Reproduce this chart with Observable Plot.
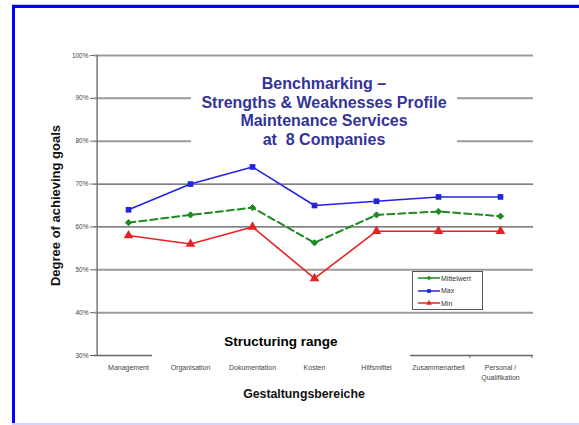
<!DOCTYPE html>
<html>
<head>
<meta charset="utf-8">
<script src="https://cdn.jsdelivr.net/npm/d3@7"></script>
<script src="https://cdn.jsdelivr.net/npm/@observablehq/plot@0.6"></script>
<style>
  html, body { margin: 0; padding: 0; background: #fff; }
  #wrap { position: relative; width: 579px; height: 425px; overflow: hidden; font-family: "Liberation Sans", Arial, sans-serif; }
  #frame { position: absolute; left: 12px; top: 5px; width: 600px; height: 430px; border-left: 3px solid #0000ff; border-top: 3px solid #0000ff; box-sizing: border-box; }
  #topline { position: absolute; left: 12px; top: 4px; width: 600px; height: 1px; background: #c8c8ff; }
  #botline { position: absolute; left: 12px; top: 423px; width: 600px; height: 2px; background: #d4d4ff; }
  #chart { position: absolute; left: 0; top: 0; }
  .box { position: absolute; background: #fff; text-align: center; font-weight: bold; }
  #title { left: 191px; top: 72px; width: 266px; height: 90px; color: #333399; font-size: 16px; line-height: 18.5px; padding-top: 3px; box-sizing: border-box; }
  #struct { left: 152px; top: 328px; width: 258px; height: 30px; color: #000; font-size: 13.5px; line-height: 28px; }
  #legend { position: absolute; left: 412px; top: 271px; width: 71px; height: 39px; border: 1px solid #555; background: #fff; font-size: 7px; color: #333; box-sizing: border-box; }
  #legend .row { position: absolute; left: 4px; height: 10px; display: flex; align-items: center; }
  #legend svg { display: block; }
</style>
</head>
<body>
<div id="wrap">
  <div id="topline"></div>
  <div id="frame"></div>
  <div id="botline"></div>
  <div id="chart"></div>
  <div id="title" class="box">Benchmarking –<br>Strengths &amp; Weaknesses Profile<br>Maintenance Services<br>at&nbsp; 8 Companies</div>
  <div id="struct" class="box">Structuring range</div>
  <div id="legend"></div>
</div>
<script>
const categories = ["Management", "Organisation", "Dokumentation", "Kosten", "Hilfsmittel", "Zusammenarbeit", "Personal /\nQualifikation"];
const maxValues = [64, 70, 74, 65, 66, 67, 67];
const meanValues = [61, 62.8, 64.5, 56.3, 62.8, 63.6, 62.5];
const minValues = [58, 56, 60, 48, 59, 59, 59];
const seriesNames = ["Mittelwert", "Max", "Min"];
const yTicks = [30, 40, 50, 60, 70, 80, 90, 100];
const lightGrid = [40, 50, 80, 90, 100];
const darkGrid = [60, 70];

const colors = {Mittelwert: "#1e8a1e", Max: "#2323e6", Min: "#e62323"};

const rows = [];
categories.forEach((c, i) => {
  rows.push({cat: c, series: "Mittelwert", v: meanValues[i]});
  rows.push({cat: c, series: "Max", v: maxValues[i]});
  rows.push({cat: c, series: "Min", v: minValues[i]});
});
const byS = s => rows.filter(r => r.series === s);

const W = 579, H = 425, ML = 94, MR = 46, MT = 55, MB = 70;
const step = (W - ML - MR) / categories.length;

const chart = Plot.plot({
  width: W, height: H,
  marginLeft: ML, marginRight: MR, marginTop: MT, marginBottom: MB,
  style: {fontFamily: "Liberation Sans, Arial, sans-serif", background: "transparent"},
  x: {type: "point", domain: categories, padding: 0.5, label: null},
  y: {domain: [30, 100], label: null},
  marks: [
    Plot.ruleY(lightGrid, {stroke: "#9a9a9a", strokeWidth: 2}),
    Plot.ruleY(darkGrid, {stroke: "#555", strokeWidth: 1.2}),
    Plot.ruleY([30], {stroke: "#666", strokeWidth: 1.5}),
    Plot.ruleX(categories, {x: d => d, dx: step / 2, y1: 30, y2: 29.3, stroke: "#666", strokeWidth: 1}),
    Plot.ruleX([categories[0]], {x: d => d, dx: -step / 2, y1: 30, y2: 100, stroke: "#777", strokeWidth: 1.5}),
    Plot.line(byS("Max"), {x: "cat", y: "v", stroke: colors.Max, strokeWidth: 1.6}),
    Plot.line(byS("Min"), {x: "cat", y: "v", stroke: colors.Min, strokeWidth: 1.6}),
    Plot.line(byS("Mittelwert"), {x: "cat", y: "v", stroke: colors.Mittelwert, strokeWidth: 2, strokeDasharray: "7,4"}),
    Plot.dot(byS("Max"), {x: "cat", y: "v", symbol: "square", r: 3.2, fill: colors.Max}),
    Plot.dot(byS("Min"), {x: "cat", y: "v", symbol: "triangle", r: 3.6, fill: colors.Min}),
    Plot.dot(byS("Mittelwert"), {x: "cat", y: "v", symbol: "diamond2", r: 2.8, fill: colors.Mittelwert, stroke: colors.Mittelwert, strokeWidth: 1}),
    Plot.axisY(yTicks, {tickSize: 4, tickFormat: d => d + "%", fontSize: 6.5, fill: "#444", stroke: "#666", tickPadding: 2}),
    Plot.axisX({tickSize: 0, fontSize: 7, fill: "#444", tickPadding: 7, lineHeight: 1.5}),
    Plot.text(["Gestaltungsbereiche"], {frameAnchor: "bottom", dy: 42, dx: -10, fontSize: 12.3, fontWeight: "bold", fill: "#111"}),
    Plot.text(["Degree of achieving goals"], {frameAnchor: "left", textAnchor: "middle", dx: -39, dy: 0, rotate: -90, fontSize: 13, fontWeight: "bold", fill: "#111"})
  ]
});
document.getElementById("chart").appendChild(chart);

// Legend
const legend = document.getElementById("legend");
const symbols = {Mittelwert: "diamond2", Max: "square", Min: "triangle"};
const symMap = {diamond2: d3.symbolDiamond2, square: d3.symbolSquare, triangle: d3.symbolTriangle};
seriesNames.forEach((s, i) => {
  const row = document.createElement("div");
  row.className = "row";
  row.style.top = (1 + i * 12.5) + "px";
  const sw = d3.create("svg").attr("width", 24).attr("height", 10);
  sw.append("line").attr("x1", 1).attr("x2", 23).attr("y1", 5).attr("y2", 5).attr("stroke", colors[s]).attr("stroke-width", 1.5);
  sw.append("path").attr("d", d3.symbol(symMap[symbols[s]], 14)()).attr("transform", "translate(12,5)").attr("fill", colors[s]);
  row.appendChild(sw.node());
  const t = document.createElement("span");
  t.textContent = s;
  row.appendChild(t);
  legend.appendChild(row);
});
</script>
</body>
</html>
